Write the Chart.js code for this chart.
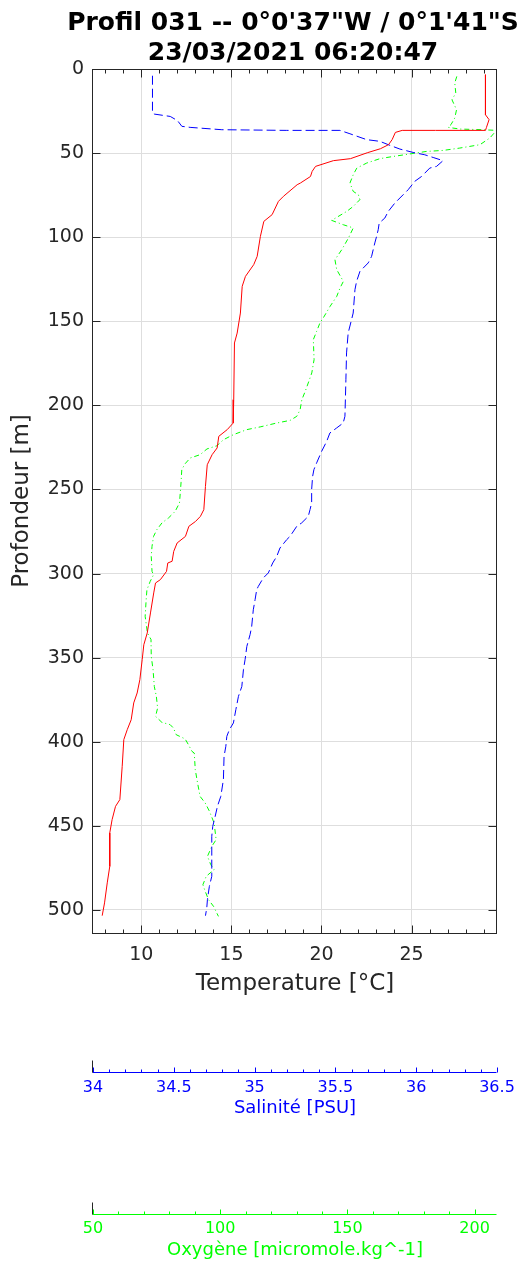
<!DOCTYPE html>
<html>
<head>
<meta charset="utf-8">
<script src="https://cdn.jsdelivr.net/npm/chart.js@4.4.1/dist/chart.umd.min.js"></script>
<style>
  html, body { margin: 0; padding: 0; background: #fff; }
  canvas { display: block; }
</style>
</head>
<body>
<canvas id="profil" width="526" height="1262"></canvas>
<script>
// Profil 031 - temperature / salinity / oxygen vs depth

const titleLines = ['Profil 031 -- 0°0\'37"W / 0°1\'41"S', '23/03/2021 06:20:47'];

// temperature (°C)
const tempDepth = [3.4, 27.2, 30.1, 34.9, 36.5, 36.5, 36.5, 37.7, 42.0, 45.0, 47.4, 49.8, 53.3, 54.5, 57.9, 60.9,
  63.9, 67.8, 68.8, 75.7, 78.7, 86.6, 90.6, 99.5, 111.4, 116.3, 123.3, 129.2, 145.1, 157.0, 162.9, 196.6, 210.5,
  214.4, 218.4, 225.3, 229.3, 235.3, 248.2, 262.0, 266.0, 269.0, 271.9, 277.9, 281.8, 286.8, 292.7, 293.7, 298.7,
  303.6, 305.6, 311.5, 323.4, 335.3, 342.3, 351.2, 363.1, 371.0, 376.9, 386.9, 392.8, 398.7, 414.6, 434.4, 438.4,
  446.3, 454.2, 474.1, 483.9, 495.8, 503.4];
const tempVals = [29.1, 29.1, 29.3, 29.15, 29.1, 26.33, 24.48, 24.1, 23.92, 23.72, 23.27, 22.54, 21.61, 20.66, 19.67,
  19.48, 19.39, 18.83, 18.65, 17.89, 17.61, 17.26, 16.80, 16.61, 16.43, 16.24, 15.78, 15.60, 15.50, 15.32, 15.17,
  15.13, 15.10, 14.77, 14.30, 14.21, 13.93, 13.66, 13.56, 13.47, 13.28, 13.01, 12.64, 12.45, 11.99, 11.80, 11.71,
  11.47, 11.40, 11.06, 10.79, 10.69, 10.51, 10.33, 10.14, 10.05, 9.92, 9.77, 9.58, 9.44, 9.22, 9.03, 8.94, 8.81,
  8.57, 8.38, 8.25, 8.25, 8.11, 7.96, 7.83];

// salinity (PSU)
const salDepth = [4.0, 26.2, 26.8, 28.2, 30.7, 34.1, 34.7, 36.1, 36.5, 36.5, 38.5, 42.0, 43.0, 45.0, 47.6, 49.6,
  51.0, 52.6, 54.5, 57.9, 58.9, 63.9, 66.8, 71.8, 76.7, 79.7, 84.7, 88.6, 91.6, 95.5, 99.5, 103.4, 107.4, 111.4,
  115.3, 120.3, 126.3, 131.2, 145.1, 149.0, 157.0, 168.8, 184.7, 206.5, 210.5, 213.4, 216.4, 221.4, 227.3, 234.2,
  238.2, 242.2, 250.1, 258.0, 262.0, 266.0, 269.9, 271.9, 277.9, 279.8, 284.8, 289.8, 293.7, 299.6, 302.6, 307.6,
  309.6, 315.5, 321.5, 331.4, 336.3, 343.3, 351.2, 357.1, 367.1, 373.0, 380.9, 388.8, 392.8, 396.8, 402.7, 408.7,
  422.5, 432.4, 438.4, 444.4, 450.3, 456.2, 480.0, 486.0, 493.9, 498.8, 503.4];
const salVals = [34.368, 34.368, 34.379, 34.478, 34.523, 34.550, 34.601, 34.797, 35.199, 35.528, 35.590, 35.693,
  35.775, 35.827, 35.899, 35.981, 36.053, 36.105, 36.166, 36.126, 36.084, 36.033, 35.991, 35.950, 35.899, 35.868,
  35.827, 35.806, 35.771, 35.765, 35.755, 35.744, 35.734, 35.724, 35.703, 35.652, 35.631, 35.621, 35.610, 35.600,
  35.579, 35.569, 35.565, 35.559, 35.548, 35.508, 35.466, 35.446, 35.415, 35.384, 35.367, 35.359, 35.353, 35.353,
  35.343, 35.332, 35.291, 35.261, 35.219, 35.199, 35.157, 35.137, 35.112, 35.085, 35.054, 35.023, 35.013, 35.003,
  34.992, 34.982, 34.972, 34.952, 34.941, 34.931, 34.921, 34.900, 34.884, 34.869, 34.844, 34.828, 34.822, 34.811,
  34.807, 34.791, 34.770, 34.756, 34.741, 34.735, 34.735, 34.720, 34.708, 34.704, 34.696];

// oxygen (micromole/kg)
const oxDepth = [4.4, 8.3, 14.3, 18.3, 24.2, 29.1, 33.1, 34.7, 35.7, 36.1, 36.5, 41.0, 45.0, 47.0, 48.4, 49.0,
  50.5, 52.0, 53.3, 55.9, 58.9, 62.8, 67.8, 72.8, 74.7, 77.7, 81.7, 84.7, 90.0, 92.6, 94.5, 100.5, 107.4, 113.4,
  119.3, 126.3, 130.2, 135.2, 141.1, 148.0, 151.0, 156.0, 160.9, 172.8, 180.7, 186.7, 191.7, 196.6, 202.6, 206.5,
  208.9, 210.5, 212.8, 214.4, 217.4, 220.4, 224.0, 225.9, 229.3, 231.3, 234.7, 238.2, 246.1, 258.0, 263.0, 266.9,
  269.9, 273.9, 277.9, 283.8, 289.8, 298.7, 300.7, 304.6, 309.6, 315.5, 325.4, 335.3, 339.2, 349.2, 357.1, 367.1,
  373.0, 379.9, 384.9, 388.5, 389.8, 391.8, 395.8, 398.3, 401.7, 405.7, 406.7, 416.6, 424.5, 432.5, 436.4, 441.4,
  448.3, 458.2, 462.2, 468.1, 473.1, 476.0, 480.0, 485.0, 488.9, 493.9, 497.9, 503.8];
const oxVals = [193.0, 192.2, 192.6, 191.1, 192.9, 192.2, 190.7, 189.6, 194.2, 203.4, 208.6, 206.0, 202.1, 194.2,
  187.7, 181.1, 174.6, 168.0, 162.8, 157.6, 153.7, 152.3, 151.0, 152.3, 154.3, 154.9, 152.3, 149.7, 143.8, 148.4,
  152.3, 150.4, 147.8, 145.1, 145.8, 148.4, 147.1, 145.8, 143.2, 140.5, 139.2, 137.9, 136.6, 136.9, 136.0, 134.6,
  133.4, 132.1, 131.4, 130.1, 127.5, 122.2, 115.7, 110.5, 105.2, 101.3, 98.7, 94.8, 92.1, 88.2, 86.2, 84.9, 84.6,
  84.0, 82.3, 79.7, 77.1, 75.1, 73.8, 73.2, 72.9, 73.2, 73.8, 72.5, 71.2, 70.9, 70.5, 71.4, 72.8, 72.9, 73.6, 74.1,
  74.9, 75.4, 74.6, 77.1, 80.3, 81.6, 82.7, 86.2, 87.5, 88.9, 89.8, 90.2, 91.1, 92.1, 94.1, 95.8, 97.6, 98.4, 96.7,
  95.0, 96.3, 97.6, 94.5, 93.2, 94.1, 95.4, 97.4, 99.3];

// axes
const depthTicks = [0, 50, 100, 150, 200, 250, 300, 350, 400, 450, 500];
const tempLabels = [10, 15, 20, 25];
const salLabels = [34, 34.5, 35, 35.5, 36, 36.5];
const oxLabels = [50, 100, 150, 200];

const INK = '#262626';
const GRID = '#dedede';
const RED = '#ff0000';
const BLUE = '#0000ff';
const GREEN = '#00ff00';

function pairs(xs, ys) {
  return xs.map((v, i) => ({ x: v, y: ys[i] }));
}

function stepTicks(from, to, step) {
  const out = [];
  for (let k = 0; from + k * step <= to + 1e-9; k++) out.push(+(from + k * step).toFixed(3));
  return out;
}

const labelOnly = list => v => list.includes(+(+v).toFixed(3)) ? String(v) : '';

// frame, inward ticks, sub-axis ticks and the title
const decor = {
  id: 'decor',
  afterDraw(chart) {
    const { ctx, chartArea: a, scales } = chart;
    const L = Math.round(a.left) - 0.5, R = Math.round(a.right) - 0.5;
    const T = Math.round(a.top) + 0.5, B = Math.round(a.bottom) + 0.5;
    ctx.save();
    ctx.lineWidth = 1;
    ctx.strokeStyle = INK;
    ctx.beginPath();
    scales.x.ticks.forEach(t => {
      const px = Math.round(scales.x.getPixelForValue(t.value)) + 0.5;
      const len = tempLabels.includes(t.value) ? 8 : 4;
      ctx.moveTo(px, B); ctx.lineTo(px, B - len);
      ctx.moveTo(px, T); ctx.lineTo(px, T + len);
    });
    scales.y.ticks.forEach(t => {
      const py = Math.round(scales.y.getPixelForValue(t.value)) + 0.5;
      ctx.moveTo(L, py); ctx.lineTo(L + 8, py);
      ctx.moveTo(R, py); ctx.lineTo(R - 8, py);
    });
    ctx.stroke();
    ctx.strokeRect(L, T, R - L, B - T);

    [[scales.xs, salLabels, BLUE], [scales.xo, oxLabels, GREEN]].forEach(([s, labels, color]) => {
      const y0 = Math.round(s.top) + 0.5;
      ctx.strokeStyle = color;
      ctx.beginPath();
      ctx.moveTo(L, y0); ctx.lineTo(R, y0);
      s.ticks.forEach(t => {
        const px = Math.round(s.getPixelForValue(t.value)) + 0.5;
        const len = labels.includes(t.value) ? 5 : 3;
        ctx.moveTo(px, y0); ctx.lineTo(px, y0 - len);
      });
      ctx.stroke();
      ctx.strokeStyle = INK;
      ctx.beginPath();
      ctx.moveTo(L, y0); ctx.lineTo(L, y0 - 12);
      ctx.stroke();
    });

    ctx.fillStyle = '#000';
    ctx.font = "bold 25px 'DejaVu Sans'";
    ctx.textAlign = 'center';
    ctx.textBaseline = 'alphabetic';
    const cx = (a.left + a.right) / 2 - 2;
    ctx.fillText(titleLines[0], cx, 30);
    ctx.fillText(titleLines[1], cx, 60);
    ctx.restore();
  }
};

Chart.defaults.font.family = "'DejaVu Sans', sans-serif";
Chart.defaults.color = INK;

new Chart(document.getElementById('profil'), {
  type: 'scatter',
  data: {
    datasets: [
      {
        label: 'Temperature',
        data: pairs(tempVals, tempDepth),
        xAxisID: 'x', yAxisID: 'y',
        showLine: true, borderColor: RED, borderWidth: 1, pointRadius: 0
      },
      {
        label: 'Salinité',
        data: pairs(salVals, salDepth),
        xAxisID: 'xs', yAxisID: 'y',
        showLine: true, borderColor: BLUE, borderWidth: 1, borderDash: [9, 4], pointRadius: 0
      },
      {
        label: 'Oxygène',
        data: pairs(oxVals, oxDepth),
        xAxisID: 'xo', yAxisID: 'y',
        showLine: true, borderColor: GREEN, borderWidth: 1, borderDash: [5, 3, 1, 3], pointRadius: 0
      }
    ]
  },
  options: {
    responsive: false,
    animation: false,
    events: [],
    layout: { padding: { top: 69, right: 29, left: 0, bottom: 0 } },
    plugins: {
      legend: { display: false },
      tooltip: { enabled: false }
    },
    scales: {
      y: {
        type: 'linear',
        position: 'left',
        reverse: true,
        min: 0,
        max: 513.7,
        afterBuildTicks: s => { s.ticks = depthTicks.map(v => ({ value: v })); },
        afterFit: s => { s.width = 93; },
        grid: { color: GRID, drawTicks: false },
        border: { display: false },
        ticks: { padding: 9, font: { size: 19 }, color: INK, autoSkip: false },
        title: { display: true, text: 'Profondeur [m]', font: { size: 23 }, color: INK, padding: { top: 8, bottom: 0 } }
      },
      x: {
        type: 'linear',
        position: 'bottom',
        weight: 0,
        min: 7.32,
        max: 29.74,
        afterBuildTicks: s => { s.ticks = stepTicks(8, 29, 1).map(v => ({ value: v })); },
        afterFit: s => { s.height = 139; },
        grid: {
          color: c => (c.tick && tempLabels.includes(c.tick.value)) ? GRID : 'rgba(0,0,0,0)',
          drawTicks: false
        },
        border: { display: false },
        ticks: { padding: 11, font: { size: 19 }, color: INK, autoSkip: false, maxRotation: 0, callback: labelOnly(tempLabels) },
        title: { display: true, text: 'Temperature [°C]', font: { size: 23 }, color: INK, padding: { top: 0, bottom: 74 } }
      },
      xs: {
        type: 'linear',
        position: 'bottom',
        weight: 1,
        min: 34,
        max: 36.5,
        afterBuildTicks: s => { s.ticks = stepTicks(34, 36.5, 0.1).map(v => ({ value: v })); },
        afterFit: s => { s.height = 142; },
        grid: { display: false, drawTicks: false },
        border: { display: false },
        ticks: { padding: 6, font: { size: 16 }, color: BLUE, autoSkip: false, maxRotation: 0, callback: labelOnly(salLabels) },
        title: { display: true, text: 'Salinité [PSU]', font: { size: 18 }, color: BLUE, padding: { top: 0, bottom: 95 } }
      },
      xo: {
        type: 'linear',
        position: 'bottom',
        weight: 2,
        min: 50,
        max: 208.8,
        afterBuildTicks: s => { s.ticks = stepTicks(50, 200, 10).map(v => ({ value: v })); },
        afterFit: s => { s.height = 48; },
        grid: { display: false, drawTicks: false },
        border: { display: false },
        ticks: { padding: 5, font: { size: 16 }, color: GREEN, autoSkip: false, maxRotation: 0, callback: labelOnly(oxLabels) },
        title: { display: true, text: 'Oxygène [micromole.kg^-1]', font: { size: 18 }, color: GREEN, padding: { top: 0, bottom: 1 } }
      }
    }
  },
  plugins: [decor]
});
</script>
</body>
</html>
